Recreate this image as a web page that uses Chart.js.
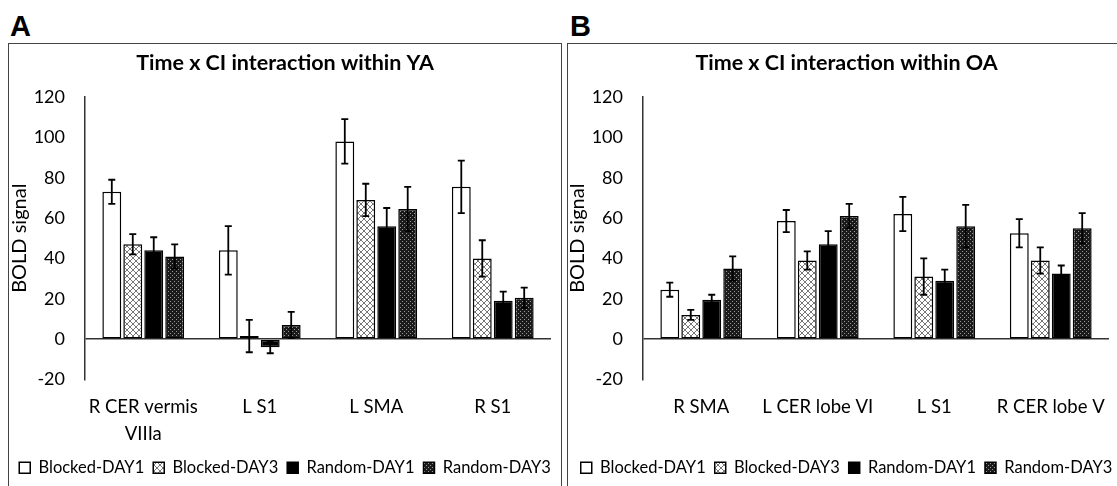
<!DOCTYPE html>
<html>
<head>
<meta charset="utf-8">
<script src="https://cdn.jsdelivr.net/npm/chart.js@4.4.0/dist/chart.umd.min.js"></script>
<style>
  body { margin: 0; background: #fff; width: 1117px; height: 486px; overflow: hidden; position: relative; }
  .panel { position: absolute; top: 43px; height: 470px; border: 1.5px solid #444; box-sizing: border-box; }
  .letter { position: absolute; top: 12px; font: bold 29px/29px "Liberation Sans", Arial, sans-serif; color: #000; }
  canvas { position: absolute; top: 45px; }
</style>
</head>
<body>
<div class="letter" style="left:10px">A</div>
<div class="letter" style="left:570px">B</div>
<div class="panel" style="left:8px; width:554px"></div>
<div class="panel" style="left:567px; width:570px"></div>
<canvas id="chartA" width="550" height="441" style="left:10px"></canvas>
<canvas id="chartB" width="557" height="441" style="left:568px"></canvas>
<script>
const seriesNames = ['Blocked-DAY1', 'Blocked-DAY3', 'Random-DAY1', 'Random-DAY3'];
const yTicks = [-20, 0, 20, 40, 60, 80, 100, 120];

// panel A - young adults
const categoriesA = [['R CER vermis', 'VIIIa'], 'L S1', 'L SMA', 'R S1'];
const blockedDay1A = [73, 44, 98, 75.5];
const blockedDay3A = [47, 1.5, 69, 40];
const randomDay1A = [44, -4, 56, 19];
const randomDay3A = [41, 7, 64.5, 20.5];
const blockedDay1AErr = [6, 12, 11, 13];
const blockedDay3AErr = [5, 8, 8, 9];
const randomDay1AErr = [6.5, 3, 9, 4.5];
const randomDay3AErr = [6, 6.5, 11, 5];

// panel B - older adults
const categoriesB = ['R SMA', 'L CER lobe VI', 'L S1', 'R CER lobe V'];
const blockedDay1B = [24.5, 58.5, 62, 52.5];
const blockedDay3B = [12, 39, 31, 39];
const randomDay1B = [19.5, 47, 29, 32.5];
const randomDay3B = [35, 61, 56, 55];
const blockedDay1BErr = [3.5, 5.5, 8.5, 7];
const blockedDay3BErr = [2.5, 4.5, 9, 6.5];
const randomDay1BErr = [2.5, 6.5, 5.5, 4];
const randomDay3BErr = [6, 6, 10.5, 7.5];

function makePattern(size, draw) {
  const c = document.createElement('canvas');
  c.width = size; c.height = size;
  const g = c.getContext('2d');
  draw(g, size);
  return g.createPattern(c, 'repeat');
}

const hatch = makePattern(6, (g, s) => {
  g.fillStyle = '#fff';
  g.fillRect(0, 0, s, s);
  g.strokeStyle = '#777';
  g.lineWidth = 1;
  g.beginPath();
  g.moveTo(0, 0); g.lineTo(s, s);
  g.moveTo(s, 0); g.lineTo(0, s);
  g.stroke();
});

const dots = makePattern(4, (g, s) => {
  g.fillStyle = '#1a1a1a';
  g.fillRect(0, 0, s, s);
  g.fillStyle = '#9a9a9a';
  g.fillRect(0, 0, 1, 1);
  g.fillRect(2, 2, 1, 1);
});

const fills = ['#fff', hatch, '#000', dots];

const errorBars = {
  id: 'errorBars',
  afterDatasetsDraw(chart) {
    const ctx = chart.ctx;
    const y = chart.scales.y;
    ctx.save();
    ctx.strokeStyle = '#000';
    ctx.lineWidth = 1.8;
    chart.data.datasets.forEach((ds, i) => {
      chart.getDatasetMeta(i).data.forEach((bar, j) => {
        const top = y.getPixelForValue(ds.data[j] + ds.errors[j]);
        const bot = y.getPixelForValue(ds.data[j] - ds.errors[j]);
        ctx.beginPath();
        ctx.moveTo(bar.x, top); ctx.lineTo(bar.x, bot);
        ctx.moveTo(bar.x - 3.5, top); ctx.lineTo(bar.x + 3.5, top);
        ctx.moveTo(bar.x - 3.5, bot); ctx.lineTo(bar.x + 3.5, bot);
        ctx.stroke();
      });
    });
    ctx.restore();
  }
};

const font = 'Lato';

function makeChart(id, title, categories, values, errors, padRight) {
  new Chart(document.getElementById(id), {
    type: 'bar',
    data: {
      labels: categories,
      datasets: seriesNames.map((name, i) => ({
        label: name,
        data: values[i],
        errors: errors[i],
        backgroundColor: fills[i],
        borderColor: '#000',
        borderWidth: 1.5,
        borderSkipped: false,
        categoryPercentage: 0.72,
        barPercentage: 0.9
      }))
    },
    options: {
      responsive: false,
      animation: false,
      events: [],
      devicePixelRatio: 1,
      layout: { padding: 0 },
      plugins: {
        title: {
          display: true, text: title, color: '#000',
          font: { family: font, size: 21.5, weight: 'bold' },
          padding: { top: 5.5, bottom: 20.7 }
        },
        legend: {
          position: 'bottom',
          labels: { boxWidth: 11, boxHeight: 11, padding: 9, color: '#000', font: { family: font, size: 16.5 } }
        },
        tooltip: { enabled: false }
      },
      scales: {
        x: {
          grid: { display: false, drawTicks: false, tickLength: 0 },
          border: { display: false },
          ticks: { color: '#000', padding: 14, maxRotation: 0, autoSkip: false, font: { family: font, size: 18.5, lineHeight: 1.45 } },
          afterFit: s => { s.height = 71; }
        },
        y: {
          min: yTicks[0],
          max: yTicks[yTicks.length - 1],
          ticks: { stepSize: yTicks[1] - yTicks[0], color: '#000', padding: 20, font: { family: font, size: 18 } },
          grid: {
            drawTicks: false, tickLength: 0, lineWidth: 1.5,
            color: c => (c.tick && c.tick.value === 0) ? '#333' : 'rgba(0,0,0,0)'
          },
          border: { color: '#333', width: 1.5 },
          title: { display: true, text: 'BOLD signal', color: '#000', padding: 0, font: { family: font, size: 20, lineHeight: 1 } },
          afterFit: s => { s.width = 75; }
        },
        // empty right-hand gutter so the plot ends where the reference does
        gutter: {
          type: 'linear', position: 'right', display: true,
          grid: { display: false }, border: { display: false }, ticks: { display: false },
          afterFit: s => { s.width = padRight; }
        }
      }
    },
    plugins: [errorBars]
  });
}

makeChart('chartA', 'Time x CI interaction within YA', categoriesA,
  [blockedDay1A, blockedDay3A, randomDay1A, randomDay3A],
  [blockedDay1AErr, blockedDay3AErr, randomDay1AErr, randomDay3AErr], 9);

makeChart('chartB', 'Time x CI interaction within OA', categoriesB,
  [blockedDay1B, blockedDay3B, randomDay1B, randomDay3B],
  [blockedDay1BErr, blockedDay3BErr, randomDay1BErr, randomDay3BErr], 16);
</script>
</body>
</html>
